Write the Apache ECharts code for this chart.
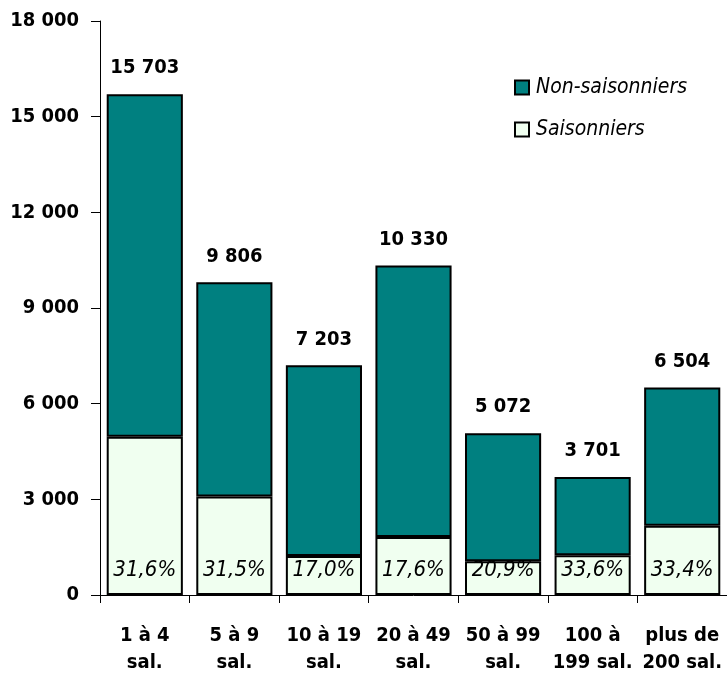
<!DOCTYPE html>
<html><head><meta charset="utf-8">
<script src="https://cdn.jsdelivr.net/npm/echarts@6/dist/echarts.min.js"></script>
<style>html,body{margin:0;padding:0;background:#fff}#c{width:727px;height:679px}</style>
</head><body><div id="c"></div>
<script>
var categories = ['1 à 4\nsal.', '5 à 9\nsal.', '10 à 19\nsal.', '20 à 49\nsal.', '50 à 99\nsal.', '100 à\n199 sal.', 'plus de\n200 sal.'];
var seasonal = [4962, 3089, 1225, 1818, 1060, 1244, 2172];
var nonSeasonal = [10741, 6717, 5978, 8512, 4012, 2457, 4332];
var totalLabels = ['15 703', '9 806', '7 203', '10 330', '5 072', '3 701', '6 504'];
var pctLabels = ['31,6%', '31,5%', '17,0%', '17,6%', '20,9%', '33,6%', '33,4%'];
var yTicks = [0, 3000, 6000, 9000, 12000, 15000, 18000];

var FONT = "'DejaVu Sans Condensed', 'Liberation Sans Narrow', sans-serif";
var chart = echarts.init(document.getElementById('c'));
function fmt(v){ return String(v).replace(/\B(?=(\d{3})+(?!\d))/g, ' '); }
chart.setOption({
  animation: false,
  textStyle: {fontFamily: FONT},
  grid: {left: 100, right: 0, top: 21, bottom: 84},
  legend: {
    orient: 'vertical', left: 509, top: 72, itemGap: 21, itemWidth: 14, itemHeight: 14,
    data: [{name: 'Non-saisonniers', icon: 'rect'}, {name: 'Saisonniers', icon: 'rect'}],
    itemStyle: {borderWidth: 2, borderColor: '#000'},
    textStyle: {fontFamily: FONT, fontSize: 21, fontStyle: 'italic', color: '#000', padding: [0,0,0,2]}
  },
  xAxis: {
    type: 'category', data: categories,
    axisLine: {lineStyle: {color: '#000', width: 1}},
    axisTick: {show: true, length: 8, lineStyle: {color: '#000'}},
    axisLabel: {fontFamily: FONT, fontSize: 20, fontWeight: 'bold', color: '#000', lineHeight: 27, margin: 27, interval: 0}
  },
  yAxis: {
    type: 'value', min: 0, max: 18000, interval: 3000,
    axisLine: {show: true, lineStyle: {color: '#000', width: 1}},
    axisTick: {show: true, length: 9, lineStyle: {color: '#000'}},
    splitLine: {show: false},
    axisLabel: {fontFamily: FONT, fontSize: 20, fontWeight: 'bold', color: '#000', margin: 21, formatter: fmt}
  },
  series: [
    {
      name: 'Saisonniers', type: 'bar', stack: 't', data: seasonal, barCategoryGap: '15%',
      itemStyle: {color: '#F0FFF0', borderColor: '#000', borderWidth: 2},
      label: {show: true, position: 'insideBottom', distance: 14, fontFamily: FONT, fontSize: 22, fontStyle: 'italic', color: '#000',
        formatter: function(p){ return pctLabels[p.dataIndex]; }}
    },
    {
      name: 'Non-saisonniers', type: 'bar', stack: 't', data: nonSeasonal,
      itemStyle: {color: '#008080', borderColor: '#000', borderWidth: 2},
      label: {show: true, position: 'top', distance: 16, fontFamily: FONT, fontSize: 20, fontWeight: 'bold', color: '#000',
        formatter: function(p){ return totalLabels[p.dataIndex]; }}
    }
  ]
});
</script></body></html>
